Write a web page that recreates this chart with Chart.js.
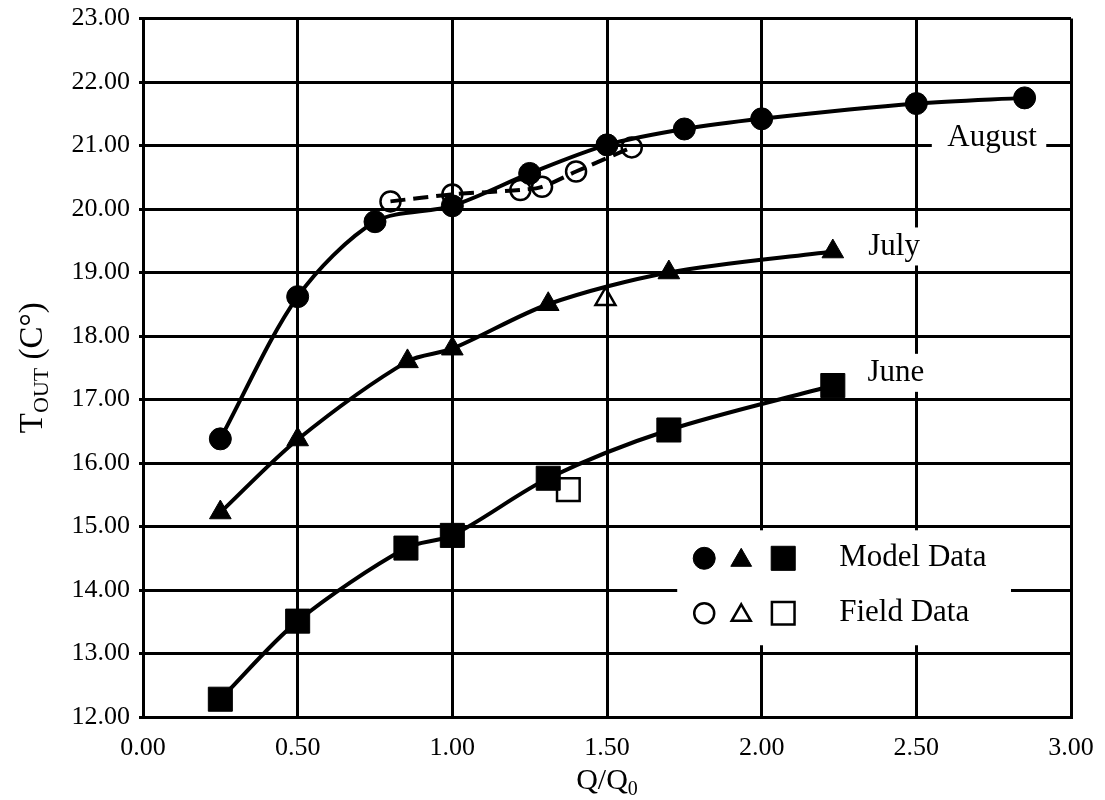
<!DOCTYPE html>
<html>
<head>
<meta charset="utf-8">
<script src="https://cdn.jsdelivr.net/npm/chart.js@4.4.1/dist/chart.umd.min.js"></script>
<style>
  html, body { margin: 0; padding: 0; background: #fff; }
  #wrap { width: 1105px; height: 800px; }
</style>
</head>
<body>
<div id="wrap"><canvas id="chart"></canvas></div>
<script>
// values
const augustModelQ = [0.25, 0.5, 0.75, 1.0, 1.25, 1.5, 1.75, 2.0, 2.5, 2.85];
const augustModelT = [16.38, 18.62, 19.8, 20.05, 20.56, 21.01, 21.26, 21.42, 21.66, 21.75];
const augustFieldQ = [0.8, 1.0, 1.22, 1.29, 1.4, 1.58];
const augustFieldT = [20.12, 20.23, 20.3, 20.35, 20.59, 20.97];

const julyModelQ = [0.25, 0.5, 0.855, 1.0, 1.31, 1.7, 2.23];
const julyModelT = [15.22, 16.37, 17.6, 17.8, 18.5, 19.0, 19.33];
const julyFieldQ = [1.495];
const julyFieldT = [18.58];

const juneModelQ = [0.25, 0.5, 0.85, 1.0, 1.31, 1.7, 2.23];
const juneModelT = [12.28, 13.51, 14.66, 14.86, 15.76, 16.52, 17.22];
const juneFieldQ = [1.375];
const juneFieldT = [15.58];

const xTicks = [0, 0.5, 1, 1.5, 2, 2.5, 3];
const yTicks = [12, 13, 14, 15, 16, 17, 18, 19, 20, 21, 22, 23];

const seriesLabels = [
  { text: "August", q: 2.745, t: 21.12, boxFrom: 2.55, boxTo: 2.92 },
  { text: "July", q: 2.428, t: 19.41, boxFrom: 2.33, boxTo: 2.53 },
  { text: "June", q: 2.434, t: 17.42, boxFrom: 2.33, boxTo: 2.53 },
];
const legendRows = ["Model Data", "Field Data"];

const SERIF = "'Liberation Serif', 'Times New Roman', serif";

const toPoints = (qs, ts) => qs.map((q, i) => ({ x: q, y: ts[i] }));

const modelSet = (label, qs, ts, style, radius) => ({
  label,
  data: toPoints(qs, ts),
  borderColor: "#000",
  backgroundColor: "#000",
  borderWidth: 4,
  tension: 0.3,
  pointStyle: style,
  pointRadius: radius,
  pointHoverRadius: radius,
  pointBackgroundColor: "#000",
  pointBorderColor: "#000",
  pointBorderWidth: 1,
});

const fieldSet = (label, qs, ts, style, radius, showLine) => ({
  label,
  data: toPoints(qs, ts),
  showLine,
  borderColor: "#000",
  borderWidth: 4,
  borderDash: [15, 8],
  tension: 0.3,
  pointStyle: style,
  pointRadius: radius,
  pointHoverRadius: radius,
  pointBackgroundColor: "rgba(255,255,255,0)",
  pointBorderColor: "#000",
  pointBorderWidth: 2.5,
});

// white boxes with series names + legend box
const annotationPlugin = {
  id: "annotations",
  beforeDatasetsDraw(chart) {
    const { ctx, scales } = chart;
    const xs = scales.x, ys = scales.y;
    ctx.save();
    ctx.fillStyle = "#fff";
    seriesLabels.forEach((lab) => {
      const cy = ys.getPixelForValue(lab.t);
      const left = xs.getPixelForValue(lab.boxFrom);
      const right = xs.getPixelForValue(lab.boxTo);
      ctx.fillRect(left, cy - 19, right - left, 38);
    });
    // legend box
    const lx1 = xs.getPixelForValue(1.727), lx2 = xs.getPixelForValue(2.806);
    const ly1 = ys.getPixelForValue(14.94), ly2 = ys.getPixelForValue(13.13);
    ctx.fillRect(lx1, ly1, lx2 - lx1, ly2 - ly1);

    ctx.fillStyle = "#000";
    ctx.font = `31px ${SERIF}`;
    ctx.textAlign = "center";
    ctx.textBaseline = "middle";
    seriesLabels.forEach((lab) => {
      ctx.fillText(lab.text, xs.getPixelForValue(lab.q), ys.getPixelForValue(lab.t));
    });

    const rowY = [ly1 + 28, ly1 + 83];
    const symX = [lx1 + 27, lx1 + 64, lx1 + 106];
    const styles = ["circle", "triangle", "rect"];
    const radii = [[11, 12, 17], [10, 11, 16]];
    rowY.forEach((y, r) => {
      styles.forEach((style, i) => {
        ctx.fillStyle = r === 0 ? "#000" : "#fff";
        ctx.strokeStyle = "#000";
        ctx.lineWidth = r === 0 ? 1 : 2.5;
        Chart.helpers.drawPoint(ctx, { pointStyle: style, radius: radii[r][i], borderWidth: ctx.lineWidth, rotation: 0 }, symX[i], y + (style === "triangle" ? 2 : 0));
      });
      ctx.fillStyle = "#000";
      ctx.textAlign = "left";
      ctx.fillText(legendRows[r], lx1 + 162, y);
    });
    ctx.restore();
  },
  afterDraw(chart) {
    const { ctx, chartArea } = chart;
    ctx.save();
    ctx.fillStyle = "#000";
    ctx.textBaseline = "alphabetic";

    // x title: Q/Q0
    const big = `30px ${SERIF}`, small = `20px ${SERIF}`;
    ctx.font = big;
    const w1 = ctx.measureText("Q/Q").width;
    ctx.font = small;
    const w2 = ctx.measureText("0").width;
    let x = (chartArea.left + chartArea.right) / 2 - (w1 + w2) / 2;
    ctx.font = big;
    ctx.textAlign = "left";
    ctx.fillText("Q/Q", x, 789);
    ctx.font = small;
    ctx.fillText("0", x + w1, 795);

    // y title: T_OUT (C°)
    ctx.translate(42, (chartArea.top + chartArea.bottom) / 2);
    ctx.rotate(-Math.PI / 2);
    const parts = [
      { s: "T", f: `33px ${SERIF}`, dy: 0 },
      { s: "OUT", f: `22px ${SERIF}`, dy: 6 },
      { s: " (C°)", f: `33px ${SERIF}`, dy: 0 },
    ];
    let total = 0;
    parts.forEach((p) => { ctx.font = p.f; p.w = ctx.measureText(p.s).width; total += p.w; });
    let px = -total / 2;
    parts.forEach((p) => {
      ctx.font = p.f;
      ctx.fillText(p.s, px, p.dy);
      px += p.w;
    });
    ctx.restore();
  },
};

new Chart(document.getElementById("chart"), {
  type: "scatter",
  data: {
    datasets: [
      modelSet("August model", augustModelQ, augustModelT, "circle", 11),
      modelSet("July model", julyModelQ, julyModelT, "triangle", 12.5),
      modelSet("June model", juneModelQ, juneModelT, "rect", 17),
      fieldSet("August field", augustFieldQ, augustFieldT, "circle", 10, true),
      fieldSet("July field", julyFieldQ, julyFieldT, "triangle", 11.5, false),
      fieldSet("June field", juneFieldQ, juneFieldT, "rect", 16, false),
    ].map((d) => ({ ...d, showLine: d.showLine !== false })),
  },
  options: {
    responsive: true,
    maintainAspectRatio: false,
    animation: false,
    events: [],
    layout: { padding: { top: 16, right: 34, left: 0, bottom: 0 } },
    plugins: {
      legend: { display: false },
      tooltip: { enabled: false },
    },
    scales: {
      x: {
        type: "linear",
        min: 0,
        max: 3,
        afterBuildTicks(scale) { scale.ticks = xTicks.map((v) => ({ value: v })); },
        afterFit(scale) {
          scale.height = 83;
          scale.paddingLeft = 0;
          scale.paddingRight = 0;
        },
        ticks: {
          color: "#000",
          font: { family: SERIF, size: 26 },
          padding: 16,
          maxRotation: 0,
          callback: (v) => Number(v).toFixed(2),
        },
        grid: { color: "#000", lineWidth: 3, drawTicks: false },
        border: { color: "#000", width: 3 },
      },
      y: {
        type: "linear",
        min: 12,
        max: 23,
        afterBuildTicks(scale) { scale.ticks = yTicks.map((v) => ({ value: v })); },
        afterFit(scale) {
          scale.width = 143;
          scale.paddingTop = 0;
          scale.paddingBottom = 0;
        },
        ticks: {
          color: "#000",
          font: { family: SERIF, size: 26 },
          padding: 9,
          callback: (v) => Number(v).toFixed(2),
        },
        grid: { color: "#000", lineWidth: 3, tickLength: 4 },
        border: { color: "#000", width: 3 },
      },
    },
  },
  plugins: [annotationPlugin],
});
</script>
</body>
</html>
